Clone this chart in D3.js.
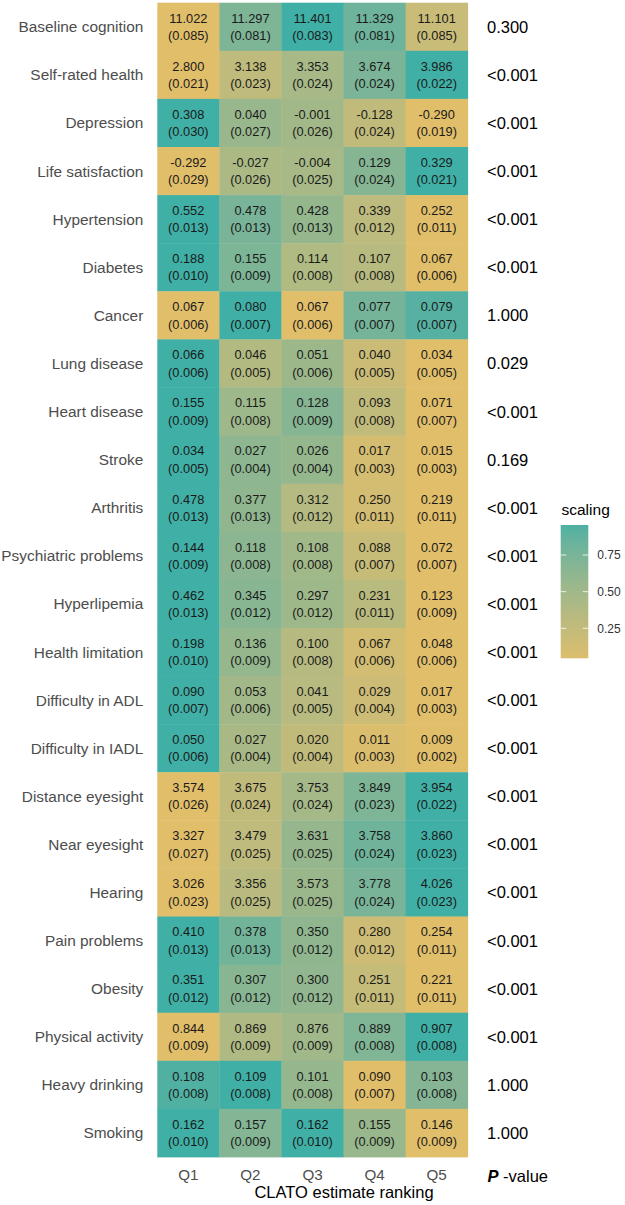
<!DOCTYPE html>
<html>
<head>
<meta charset="utf-8">
<script src="https://cdn.jsdelivr.net/npm/d3@7"></script>
<style>
  html, body { margin: 0; padding: 0; background: #ffffff; }
  svg { display: block; }
  text { font-family: "Liberation Sans", Arial, Helvetica, sans-serif; }
</style>
</head>
<body>
<svg id="chart" width="625" height="1205"></svg>
<script>
// ---------------- DATA ----------------
const categories = ["Q1", "Q2", "Q3", "Q4", "Q5"];

const outcomes = [
  "Baseline cognition", "Self-rated health", "Depression", "Life satisfaction",
  "Hypertension", "Diabetes", "Cancer", "Lung disease", "Heart disease", "Stroke",
  "Arthritis", "Psychiatric problems", "Hyperlipemia", "Health limitation",
  "Difficulty in ADL", "Difficulty in IADL", "Distance eyesight", "Near eyesight",
  "Hearing", "Pain problems", "Obesity", "Physical activity", "Heavy drinking", "Smoking"
];

const estimates = [
  [11.022, 11.297, 11.401, 11.329, 11.101],
  [2.800, 3.138, 3.353, 3.674, 3.986],
  [0.308, 0.040, -0.001, -0.128, -0.290],
  [-0.292, -0.027, -0.004, 0.129, 0.329],
  [0.552, 0.478, 0.428, 0.339, 0.252],
  [0.188, 0.155, 0.114, 0.107, 0.067],
  [0.067, 0.080, 0.067, 0.077, 0.079],
  [0.066, 0.046, 0.051, 0.040, 0.034],
  [0.155, 0.115, 0.128, 0.093, 0.071],
  [0.034, 0.027, 0.026, 0.017, 0.015],
  [0.478, 0.377, 0.312, 0.250, 0.219],
  [0.144, 0.118, 0.108, 0.088, 0.072],
  [0.462, 0.345, 0.297, 0.231, 0.123],
  [0.198, 0.136, 0.100, 0.067, 0.048],
  [0.090, 0.053, 0.041, 0.029, 0.017],
  [0.050, 0.027, 0.020, 0.011, 0.009],
  [3.574, 3.675, 3.753, 3.849, 3.954],
  [3.327, 3.479, 3.631, 3.758, 3.860],
  [3.026, 3.356, 3.573, 3.778, 4.026],
  [0.410, 0.378, 0.350, 0.280, 0.254],
  [0.351, 0.307, 0.300, 0.251, 0.221],
  [0.844, 0.869, 0.876, 0.889, 0.907],
  [0.108, 0.109, 0.101, 0.090, 0.103],
  [0.162, 0.157, 0.162, 0.155, 0.146]
];

const standardErrors = [
  [0.085, 0.081, 0.083, 0.081, 0.085],
  [0.021, 0.023, 0.024, 0.024, 0.022],
  [0.030, 0.027, 0.026, 0.024, 0.019],
  [0.029, 0.026, 0.025, 0.024, 0.021],
  [0.013, 0.013, 0.013, 0.012, 0.011],
  [0.010, 0.009, 0.008, 0.008, 0.006],
  [0.006, 0.007, 0.006, 0.007, 0.007],
  [0.006, 0.005, 0.006, 0.005, 0.005],
  [0.009, 0.008, 0.009, 0.008, 0.007],
  [0.005, 0.004, 0.004, 0.003, 0.003],
  [0.013, 0.013, 0.012, 0.011, 0.011],
  [0.009, 0.008, 0.008, 0.007, 0.007],
  [0.013, 0.012, 0.012, 0.011, 0.009],
  [0.010, 0.009, 0.008, 0.006, 0.006],
  [0.007, 0.006, 0.005, 0.004, 0.003],
  [0.006, 0.004, 0.004, 0.003, 0.002],
  [0.026, 0.024, 0.024, 0.023, 0.022],
  [0.027, 0.025, 0.025, 0.024, 0.023],
  [0.023, 0.025, 0.025, 0.024, 0.023],
  [0.013, 0.013, 0.012, 0.012, 0.011],
  [0.012, 0.012, 0.012, 0.011, 0.011],
  [0.009, 0.009, 0.009, 0.008, 0.008],
  [0.008, 0.008, 0.008, 0.007, 0.008],
  [0.010, 0.009, 0.010, 0.009, 0.009]
];

const pValues = [
  "0.300", "<0.001", "<0.001", "<0.001", "<0.001", "<0.001", "1.000", "0.029",
  "<0.001", "0.169", "<0.001", "<0.001", "<0.001", "<0.001", "<0.001", "<0.001",
  "<0.001", "<0.001", "<0.001", "<0.001", "<0.001", "<0.001", "1.000", "1.000"
];

const legendTicks = [0.25, 0.50, 0.75];

// ---------------- LAYOUT ----------------
const panel = { left: 157.3, right: 467.7, top: 2.7, bottom: 1157 };
const svg = d3.select("#chart");

const x = d3.scaleBand().domain(categories).range([panel.left, panel.right]).padding(0);
const y = d3.scaleBand().domain(outcomes).range([panel.top, panel.bottom]).padding(0);
const color = d3.scaleLinear().domain([0, 1])
  .range(["#E1BE6A", "#40B0A6"]).interpolate(d3.interpolateLab);

// build tidy cells with min-max scaling per outcome
const cells = [];
outcomes.forEach((o, i) => {
  const vals = estimates[i];
  const mn = d3.min(vals), mx = d3.max(vals);
  vals.forEach((v, j) => {
    cells.push({
      outcome: o, q: categories[j], value: v, se: standardErrors[i][j],
      scaling: mx > mn ? (v - mn) / (mx - mn) : 0.5
    });
  });
});

// tiles
svg.append("g").selectAll("rect").data(cells).join("rect")
  .attr("x", d => x(d.q))
  .attr("y", d => y(d.outcome))
  .attr("width", x.bandwidth() + 0.4)
  .attr("height", y.bandwidth() + 0.4)
  .attr("fill", d => color(d.scaling));

// cell text
const fmt = d3.format(".3f");
const fmtSigned = v => (v < 0 ? "-" : "") + fmt(Math.abs(v));
const cellText = svg.append("g").selectAll("g").data(cells).join("g")
  .attr("transform", d => `translate(${x(d.q) + x.bandwidth() / 2},${y(d.outcome) + y.bandwidth() / 2})`);
cellText.append("text")
  .attr("text-anchor", "middle").attr("y", -4.2)
  .attr("font-size", 12.8).attr("fill", "#1a1a1a")
  .text(d => fmtSigned(d.value));
cellText.append("text")
  .attr("text-anchor", "middle").attr("y", 13.2)
  .attr("font-size", 12.8).attr("fill", "#1a1a1a")
  .text(d => "(" + fmt(d.se) + ")");

// y axis (row labels)
const yAxis = svg.append("g")
  .attr("transform", `translate(${panel.left},0)`)
  .call(d3.axisLeft(y).tickSize(0).tickPadding(14));
yAxis.select(".domain").remove();
yAxis.selectAll("text")
  .attr("font-size", 15.4).attr("fill", "#4D4D4D")
  .attr("dy", "0.36em")
  .style("font-family", "'Liberation Sans', Arial, sans-serif");

// x axis
const xAxis = svg.append("g")
  .attr("transform", `translate(0,${panel.bottom})`)
  .call(d3.axisBottom(x).tickSize(0).tickPadding(12.3));
xAxis.select(".domain").remove();
xAxis.selectAll("text")
  .attr("font-size", 15.2).attr("fill", "#4D4D4D")
  .style("font-family", "'Liberation Sans', Arial, sans-serif");

// P-value column
svg.append("g").selectAll("text").data(outcomes).join("text")
  .attr("x", 487)
  .attr("y", (d) => y(d) + y.bandwidth() / 2 + 6)
  .attr("font-size", 16.5).attr("fill", "#000")
  .text((d, i) => pValues[i]);

const pLab = svg.append("text")
  .attr("x", 487.5).attr("y", 1182)
  .attr("font-size", 16.5).attr("fill", "#000");
pLab.append("tspan").attr("font-weight", "bold").attr("font-style", "italic").text("P");
pLab.append("tspan").text(" -value");

// x title
svg.append("text")
  .attr("x", 344).attr("y", 1198)
  .attr("text-anchor", "middle")
  .attr("font-size", 16.5).attr("fill", "#000")
  .text("CLATO estimate ranking");

// ---------------- LEGEND ----------------
const bar = { x: 560.7, w: 27.6, top: 525, bottom: 658.3 };
const ly = d3.scaleLinear().domain([0.25, 0.75]).range([628.3, 555]);
const vTop = ly.invert(bar.top), vBot = ly.invert(bar.bottom);

const defs = svg.append("defs");
const grad = defs.append("linearGradient").attr("id", "lg")
  .attr("x1", 0).attr("y1", 1).attr("x2", 0).attr("y2", 0);
d3.range(0, 1.0001, 0.05).forEach(t => {
  const v = vBot + t * (vTop - vBot);
  grad.append("stop").attr("offset", t).attr("stop-color", color(v));
});

svg.append("text")
  .attr("x", 561.5).attr("y", 515)
  .attr("font-size", 15.5).attr("fill", "#000")
  .text("scaling");

svg.append("rect")
  .attr("x", bar.x).attr("y", bar.top)
  .attr("width", bar.w).attr("height", bar.bottom - bar.top)
  .attr("fill", "url(#lg)");

const lt = svg.append("g").selectAll("g").data(legendTicks).join("g")
  .attr("transform", d => `translate(0,${ly(d)})`);
lt.append("line").attr("x1", bar.x).attr("x2", bar.x + 5.5)
  .attr("stroke", "#fff").attr("stroke-width", 0.8);
lt.append("line").attr("x1", bar.x + bar.w - 5.5).attr("x2", bar.x + bar.w)
  .attr("stroke", "#fff").attr("stroke-width", 0.8);
lt.append("text")
  .attr("x", 597.3).attr("dy", "0.36em")
  .attr("font-size", 12).attr("fill", "#333")
  .text(d => d3.format(".2f")(d));
</script>
</body>
</html>
